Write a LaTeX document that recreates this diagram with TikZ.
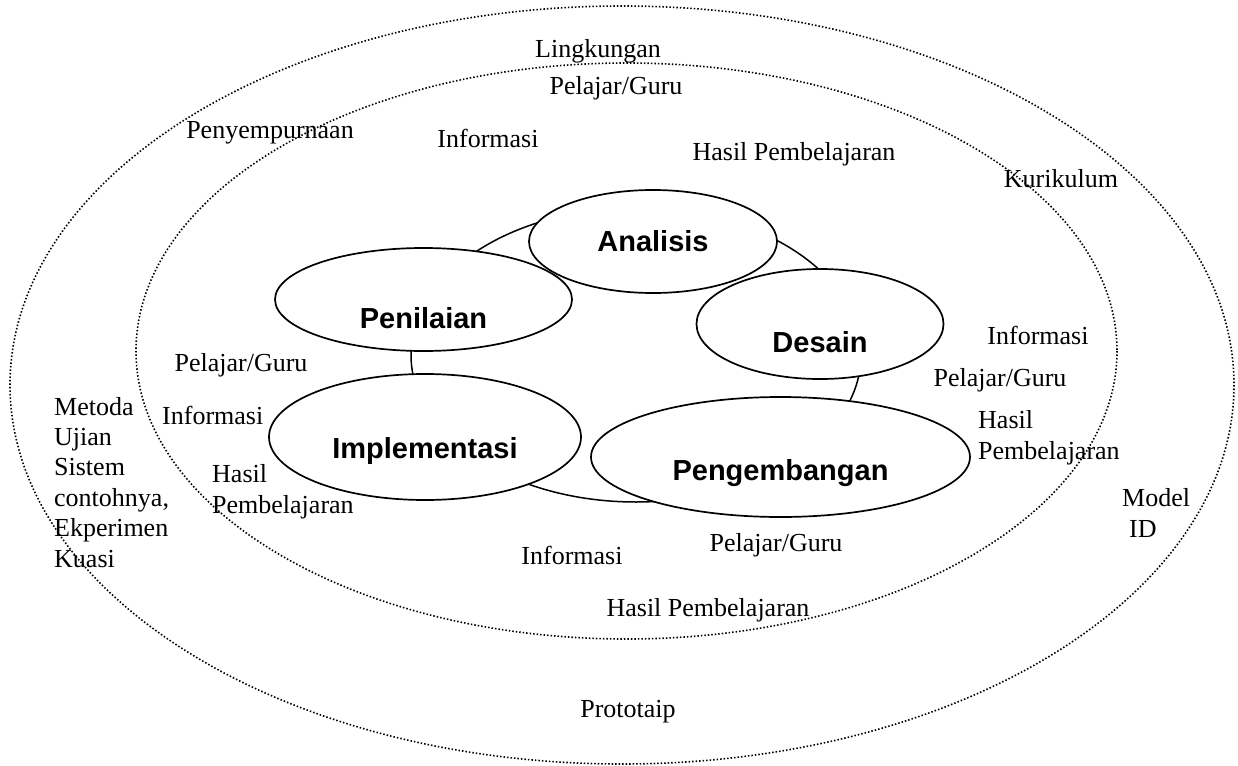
\documentclass[tikz,border=0pt]{standalone}
\usepackage{fontspec}
\setmainfont{Liberation Serif}
\newfontfamily\stagefont{Liberation Sans}
\usetikzlibrary{shapes.geometric}
\begin{document}
\begin{tikzpicture}[x=1pt, y=-1pt,
  ring/.style={line width=1.6pt, dash pattern=on 1.5pt off 2.0pt},
  lbl/.style={font=\fontsize{26}{30.4}\selectfont, inner sep=0pt, anchor=base},
  lblw/.style={lbl, anchor=base west, align=left},
  stage/.style={draw, ellipse, fill=white, line width=1.7pt, inner sep=0pt,
    text depth=0pt, font=\stagefont\bfseries\fontsize{29}{34}\selectfont},
  cyclering/.style={draw, ellipse, line width=1.5pt, inner sep=0pt},
]
\useasboundingbox (0,0) rectangle (1238,765);

% outer and inner context rings
\draw[ring] (622,385) ellipse [x radius=612, y radius=379];
\draw[ring] (626.5,351) ellipse [x radius=490.5, y radius=288];

% labels around the rings (multi-line labels sit on their last baseline)
\node[lbl] (lingkungan)    at (598,58)  {Lingkungan};
\node[lbl] (pg-top)        at (616,95)  {Pelajar/Guru};
\node[lbl] (penyempurnaan) at (270,139) {Penyempurnaan};
\node[lbl] (info-top)      at (488,147) {Informasi};
\node[lbl] (hasil-top)     at (794,160) {Hasil Pembelajaran};
\node[lbl] (kurikulum)     at (1061,187) {Kurikulum};

\node[lbl] (info-right)    at (1038,344) {Informasi};
\node[lbl] (pg-right)      at (1000,386) {Pelajar/Guru};
\node[lblw] (hasil-right)  at (978,459)  {Hasil\\Pembelajaran};
\node[lblw] (model)        at (1122,537) {Model\\\hspace{7pt}ID};

\node[lbl] (pg-left)       at (241,371) {Pelajar/Guru};
\node[lbl, anchor=base west] (info-left) at (162,424) {Informasi};
\node[lblw] (hasil-left)   at (212,513) {Hasil\\Pembelajaran};
\node[lblw] (metoda)       at (54,567)  {Metoda\\Ujian\\Sistem\\contohnya,\\Ekperimen\\Kuasi};

\node[lbl] (pg-bottom)     at (776,551) {Pelajar/Guru};
\node[lbl] (info-bottom)   at (572,564) {Informasi};
\node[lbl] (hasil-bottom)  at (708,616) {Hasil Pembelajaran};
\node[lbl] (prototaip)     at (628,717) {Prototaip};

% cycle joining the five phases
\node[cyclering, minimum width=450pt, minimum height=294pt] (cycle) at (636,355) {};

% the five phases
\node[stage, minimum width=248pt, minimum height=103pt, text height=19pt] (analisis) at (653,241.5) {Analisis};
\node[stage, minimum width=247pt, minimum height=110pt, text height=56pt] (desain) at (820,324) {Desain};
\node[stage, minimum width=379pt, minimum height=120pt, text height=46pt] (pengembangan) at (780.5,457) {Pengembangan};
\node[stage, minimum width=312pt, minimum height=126pt, text height=42pt] (implementasi) at (425,437) {Implementasi};
\node[stage, minimum width=297pt, minimum height=103pt, text height=57pt] (penilaian) at (423.5,299.5) {Penilaian};
\end{tikzpicture}
\end{document}
